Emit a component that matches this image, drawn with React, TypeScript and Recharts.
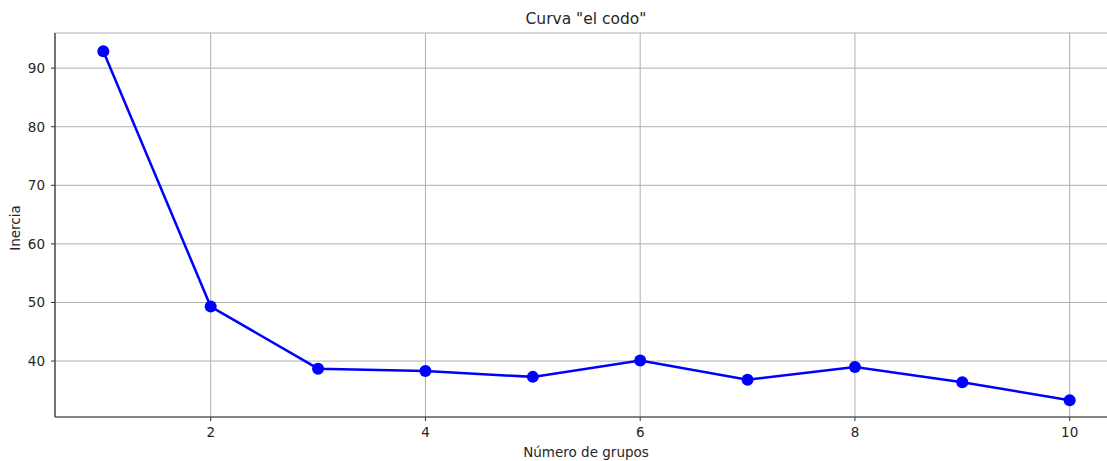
import { LineChart, Line, XAxis, YAxis, CartesianGrid } from "recharts";

// elbow curve values
const grupos = [1, 2, 3, 4, 5, 6, 7, 8, 9, 10];
const inercia = [92.9, 49.3, 38.7, 38.3, 37.3, 40.1, 36.8, 39.0, 36.4, 33.3];
const xTicks = [2, 4, 6, 8, 10];
const yTicks = [40, 50, 60, 70, 80, 90];

const data = grupos.map((g, i) => ({ grupos: g, inercia: inercia[i] }));

const FONT = "'DejaVu Sans', sans-serif";
const TEXT = "#262626";
const tickStyle = { fontSize: 13.5, fill: TEXT, fontFamily: FONT };

export default function App() {
  return (
    <div
      style={{
        position: "absolute",
        left: 0,
        top: 0,
        width: 1107,
        height: 461,
        overflow: "hidden",
        background: "#fff",
      }}
    >
      <LineChart
        width={1118}
        height={461}
        data={data}
        margin={{ top: 33, right: 0, bottom: 14, left: 0 }}
      >
        <CartesianGrid stroke="#b0b0b0" strokeWidth={1} verticalPoints={undefined} />
        <XAxis
          dataKey="grupos"
          type="number"
          domain={[0.55, 10.45]}
          ticks={xTicks}
          allowDataOverflow
          height={30}
          tickSize={4}
          tickMargin={6}
          tick={tickStyle}
          axisLine={{ stroke: "#333", strokeWidth: 1.2 }}
          tickLine={{ stroke: "#333" }}
        />
        <XAxis
          xAxisId="top"
          orientation="top"
          type="number"
          domain={[0.55, 10.45]}
          height={0}
          tick={false}
          tickLine={false}
          axisLine={{ stroke: "#333", strokeWidth: 1.2 }}
        />
        <YAxis
          type="number"
          domain={[30.45, 96.0]}
          ticks={yTicks}
          allowDataOverflow
          width={55}
          tickSize={4}
          tickMargin={6}
          tick={tickStyle}
          axisLine={{ stroke: "#333", strokeWidth: 1.2 }}
          tickLine={{ stroke: "#333" }}
        />
        <Line
          type="linear"
          dataKey="inercia"
          stroke="#0000ff"
          strokeWidth={2.5}
          dot={{ r: 6, fill: "#0000ff", stroke: "#0000ff", strokeWidth: 0 }}
          activeDot={false}
          isAnimationActive={false}
        />
      </LineChart>

      {/* title and axis labels */}
      <svg
        width={1107}
        height={461}
        style={{ position: "absolute", left: 0, top: 0, pointerEvents: "none" }}
      >
        <text x={586} y={24} textAnchor="middle" fontSize={15.5} fill={TEXT} fontFamily={FONT}>
          Curva "el codo"
        </text>
        <text x={586} y={457} textAnchor="middle" fontSize={13.5} fill={TEXT} fontFamily={FONT}>
          Número de grupos
        </text>
        <text
          x={20}
          y={228}
          textAnchor="middle"
          fontSize={13.5}
          fill={TEXT}
          fontFamily={FONT}
          transform="rotate(-90 20 228)"
        >
          Inercia
        </text>
      </svg>
    </div>
  );
}
